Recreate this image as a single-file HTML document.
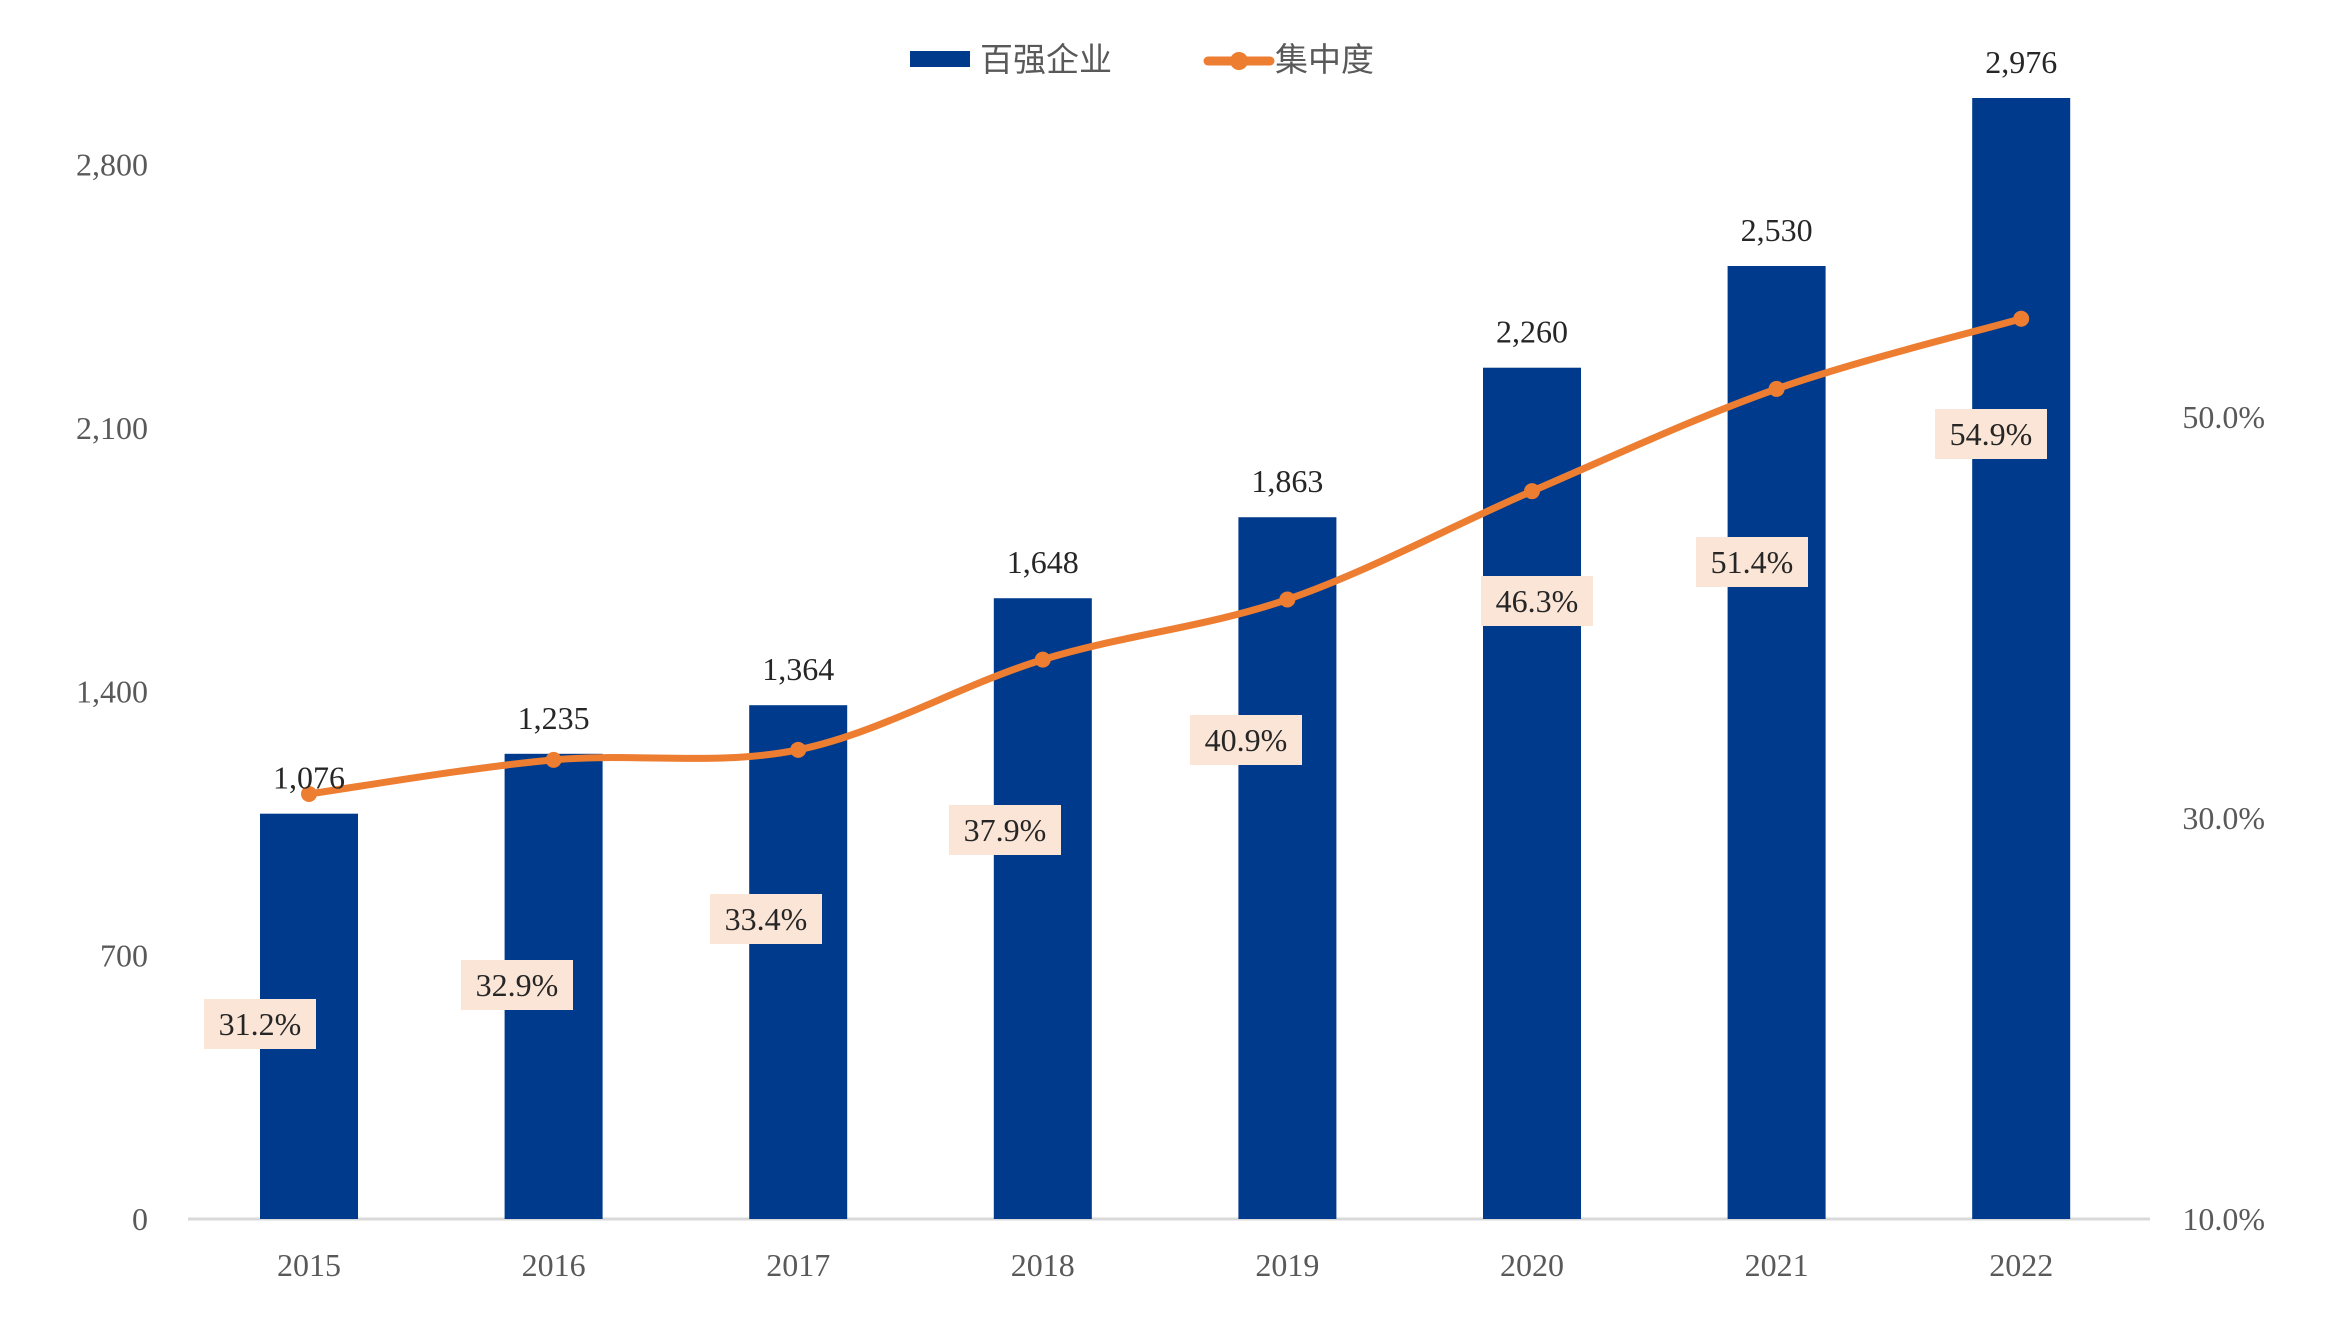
<!DOCTYPE html>
<html><head><meta charset="utf-8"><style>
html,body{margin:0;padding:0;background:#fff;}
svg{display:block;font-family:"Liberation Serif","Noto Serif CJK SC",serif;}
</style></head><body>
<svg id="chart" width="2336" height="1333" viewBox="0 0 2336 1333">
<g id="legend">
  <g>
    <rect x="910" y="51" width="60" height="16" fill="#003A8C"/>
    <text x="980" y="71" font-size="33" fill="#595959" font-family="Liberation Sans, Noto Sans CJK SC, sans-serif">百强企业</text>
  </g>
  <g>
    <line x1="1208" y1="61" x2="1270" y2="61" stroke="#ED7D31" stroke-width="9" stroke-linecap="round"/>
    <circle cx="1239" cy="61" r="9" fill="#ED7D31"/>
    <text x="1275" y="71" font-size="33" fill="#595959" font-family="Liberation Sans, Noto Sans CJK SC, sans-serif">集中度</text>
  </g>
</g>
<g id="axes"></g>
<g id="bars"></g>
<g id="line"></g>
<g id="labels"></g>
</svg>
<script>
const categories = ["2015","2016","2017","2018","2019","2020","2021","2022"];
const companyValues = [1076,1235,1364,1648,1863,2260,2530,2976];
const concentration = [31.2,32.9,33.4,37.9,40.9,46.3,51.4,54.9];
const leftTicks = [0,700,1400,2100,2800];
const rightTicks = [10,30,50];
const leftTickLabels = ["0","700","1,400","2,100","2,800"];
const rightTickLabels = ["10.0%","30.0%","50.0%"];
// label box placement (layout, not data)
const pctBoxCenters = [[260,1024],[517,985],[766,919],[1005,830],[1246,740],[1537,601],[1752,562],[1991,434]];

const NS="http://www.w3.org/2000/svg";
const baseY=1219, x0=188, x1=2150;
const yL = v => baseY - v*(1121/2976);
const yR = p => baseY - (p-10)*(401/20);
const xC = i => 309 + i*244.6;
const barW = 98;
function mk(tag, attrs, parent){const e=document.createElementNS(NS,tag);for(const k in attrs)e.setAttribute(k,attrs[k]);parent.appendChild(e);return e;}

const axes=document.getElementById('axes');
const axisLine=mk('line',{x1:x0,y1:baseY,x2:x1,y2:baseY,stroke:'#D9D9D9','stroke-width':3},axes);


leftTicks.forEach((v,i)=>{
  const t=mk('text',{x:148,y:yL(v)+11,'font-size':32,fill:'#595959','text-anchor':'end'},axes);
  t.textContent=leftTickLabels[i];
  
  
});
rightTicks.forEach((v,i)=>{
  const t=mk('text',{x:2265,y:yR(v)+11,'font-size':32,fill:'#595959','text-anchor':'end'},axes);
  t.textContent=rightTickLabels[i];
  
  
});
categories.forEach((c,i)=>{
  const t=mk('text',{x:xC(i),y:1276,'font-size':32,fill:'#595959','text-anchor':'middle'},axes);
  t.textContent=c;
  
  
});

const bars=document.getElementById('bars');
const labels=document.getElementById('labels');
companyValues.forEach((v,i)=>{
  const r=mk('rect',{x:xC(i)-barW/2,y:yL(v),width:barW,height:baseY-yL(v),fill:'#003A8C'},bars);
  
  
  const t=mk('text',{x:xC(i),y:yL(v)-25,'font-size':32,fill:'#262626','text-anchor':'middle'},labels);
  t.textContent=v.toLocaleString('en-US');
  
  
});

const line=document.getElementById('line');
const pts=concentration.map((p,i)=>[xC(i),yR(p)]);
let d='M'+pts[0][0]+','+pts[0][1];
for(let i=0;i<pts.length-1;i++){
  const p0=pts[Math.max(0,i-1)],p1=pts[i],p2=pts[i+1],p3=pts[Math.min(pts.length-1,i+2)];
  const c1=[p1[0]+(p2[0]-p0[0])/6,p1[1]+(p2[1]-p0[1])/6];
  const c2=[p2[0]-(p3[0]-p1[0])/6,p2[1]-(p3[1]-p1[1])/6];
  d+=' C'+c1[0]+','+c1[1]+' '+c2[0]+','+c2[1]+' '+p2[0]+','+p2[1];
}
const path=mk('path',{d:d,fill:'none',stroke:'#ED7D31','stroke-width':7,'stroke-linecap':'round'},line);


pts.forEach((p,i)=>{
  const c=mk('circle',{cx:p[0],cy:p[1],r:8,fill:'#ED7D31'},line);
  
  
});
concentration.forEach((p,i)=>{
  const [cx,cy]=pctBoxCenters[i];
  const g=mk('g',{},labels);
  
  
  mk('rect',{x:cx-56,y:cy-25,width:112,height:50,fill:'#FBE5D6'},g);
  const t=mk('text',{x:cx,y:cy+11,'font-size':32,fill:'#262626','text-anchor':'middle'},g);
  t.textContent=p.toFixed(1)+'%';
});
</script>
</body></html>
